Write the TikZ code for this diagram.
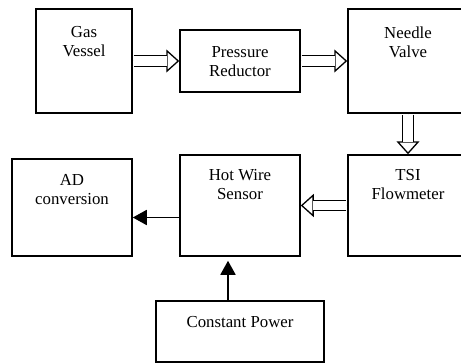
\documentclass[tikz,border=0pt]{standalone}
\usepackage{fontspec}
\setmainfont{Liberation Serif}
\usetikzlibrary{arrows.meta}

\begin{document}
\begin{tikzpicture}[x=1pt,y=-1pt,
 every node/.style={font=\fontsize{16.8}{19}\selectfont},
 box/.style={draw,line width=1.5pt,inner sep=0pt},
 txt/.style={anchor=north,align=center,inner sep=0pt},
 hhead/.style={draw,line width=1.3pt,shorten <=0.8pt,-{Triangle[open,length=13pt,width=23pt]}},
 hshaft/.style={draw,line width=1.3pt,double,double distance=9.2pt,shorten <=0.8pt,shorten >=12.4pt},
 signal/.style={draw,line width=1.8pt,-{Triangle[length=14pt,width=15pt]}}]
\useasboundingbox (0,0) rectangle (461,364);
% blocks
\node[box,minimum width=96pt,minimum height=104pt] (gas) at (84,61) {};
\node[box,minimum width=120pt,minimum height=62pt] (pr) at (240,61) {};
\node[box,minimum width=120pt,minimum height=104pt] (nv) at (408,61) {};
\node[box,minimum width=120pt,minimum height=101pt] (tsi) at (408,205.5) {};
\node[box,minimum width=120pt,minimum height=101pt] (hws) at (240,205.5) {};
\node[box,minimum width=120pt,minimum height=97pt] (ad) at (72,207.5) {};
\node[box,minimum width=168pt,minimum height=61pt] (cp) at (240,331.5) {};
% labels
\node[txt] (gasT) at ([yshift=-17.5pt]gas.north) {Gas\\Vessel};
\node[txt] (prT) at ([yshift=-16.7pt]pr.north) {Pressure\\Reductor};
\node[txt] (nvT) at ([yshift=-18pt]nv.north) {Needle\\Valve};
\node[txt] (tsiT) at ([yshift=-15pt]tsi.north) {TSI\\Flowmeter};
\node[txt] (hwsT) at ([yshift=-15pt]hws.north) {Hot Wire\\Sensor};
\node[txt] (adT) at ([yshift=-16pt]ad.north) {AD\\conversion};
\node[txt] (cpT) at ([yshift=-15.7pt]cp.north) {Constant Power};
% gas flow
\foreach \a/\b in {gas/pr, pr/nv, nv/tsi, tsi/hws} {
  \draw[hhead] (\a) -- (\b);
  \draw[hshaft] (\a) -- (\b);
}
% signal
\coordinate (hwsout) at ([yshift=-12pt]hws.west);
\draw[signal] (hwsout) -- (hwsout -| ad.east);
\coordinate (cpout) at ([xshift=-12pt]cp.north);
\draw[signal,shorten >=4pt] (cpout) -- (cpout |- hws.south);
\end{tikzpicture}
\end{document}
